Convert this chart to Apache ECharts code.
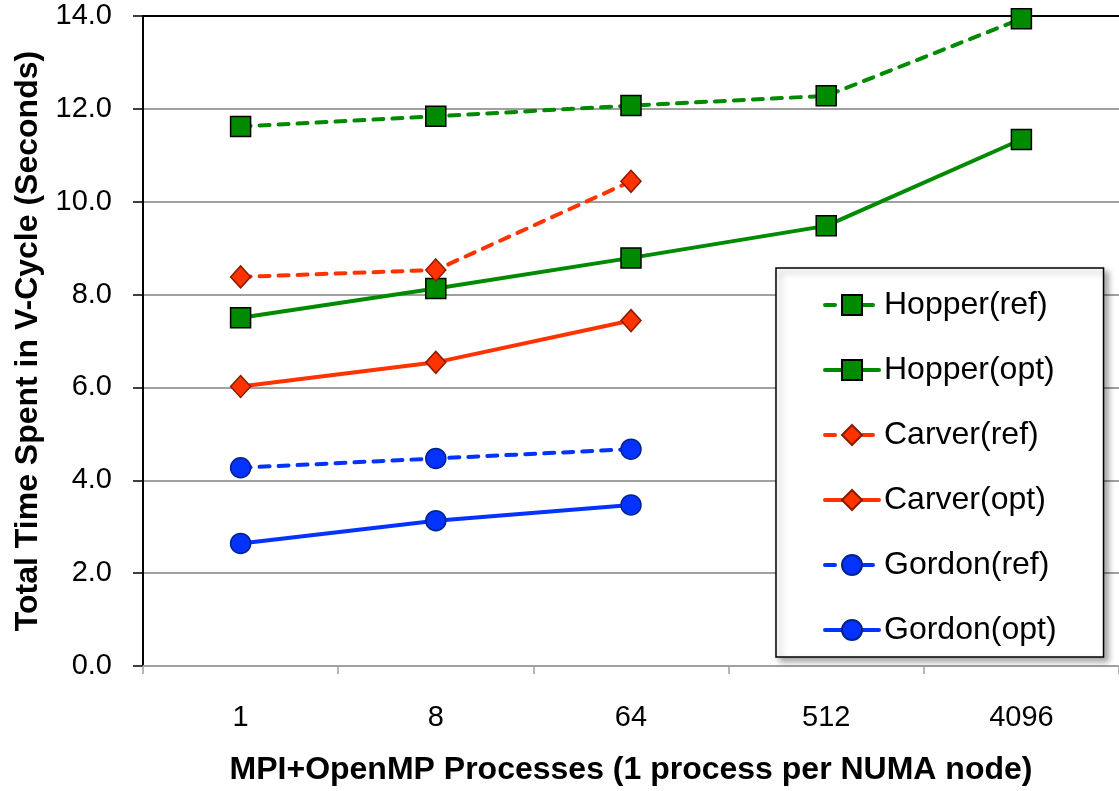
<!DOCTYPE html>
<html><head><meta charset="utf-8">
<script src="https://cdn.jsdelivr.net/npm/echarts@6/dist/echarts.min.js"></script>
<style>html,body{margin:0;padding:0;background:#fff}#c{width:1119px;height:791px}</style>
</head><body><div id="c"></div>
<script>
const categories = ['1', '8', '64', '512', '4096'];
const hopperRef = [11.62, 11.84, 12.07, 12.28, 13.94];
const hopperOpt = [7.50, 8.13, 8.79, 9.48, 11.34];
const carverRef = [8.38, 8.53, 10.44];
const carverOpt = [6.02, 6.54, 7.44];
const gordonRef = [4.27, 4.47, 4.67];
const gordonOpt = [2.64, 3.13, 3.47];
const seriesNames = ['Hopper(ref)', 'Hopper(opt)', 'Carver(ref)', 'Carver(opt)', 'Gordon(ref)', 'Gordon(opt)'];

const GREEN = '#008a00', RED = '#ff3300', BLUE = '#0433ff';
const FONT = 'Liberation Sans, Arial, sans-serif';
const dash = [10, 9];

function mk(name, data, color, dashed, symbol, size, border) {
  return {
    name, type: 'line', data,
    symbol, symbolSize: size,
    itemStyle: { color, borderColor: border, borderWidth: 1.5 },
    lineStyle: { color, width: 4, type: dashed ? dash : 'solid', cap: 'round' },
    emphasis: { disabled: true },
    z: 3
  };
}

const chart = echarts.init(document.getElementById('c'), null, { renderer: 'canvas' });
chart.setOption({
  animation: false,
  backgroundColor: '#fff',
  textStyle: { fontFamily: FONT },
  grid: { left: 143, top: 16, right: -8, bottom: 122, containLabel: false },
  legend: {
    orient: 'vertical',
    left: 776, top: 268,
    padding: [19, 47, 9, 47],
    itemWidth: 54, itemHeight: 25, itemGap: 29, itemTextGap: 5,
    backgroundColor: '#fff',
    borderColor: '#000', borderWidth: 1.5,
    shadowBlur: 6, shadowOffsetX: 4, shadowOffsetY: 4, shadowColor: 'rgba(0,0,0,0.35)',
    lineStyle: { width: 4 },
    textStyle: { fontSize: 32, color: '#000', fontFamily: FONT, lineHeight: 36 },
    data: seriesNames
  },
  xAxis: [{
    type: 'category', data: categories, boundaryGap: true,
    axisLine: { show: true, lineStyle: { color: '#a0a0a0', width: 2 } },
    axisTick: { show: true, alignWithLabel: false, length: 8, lineStyle: { color: '#a0a0a0', width: 1.5 } },
    axisLabel: { fontSize: 29, color: '#000', margin: 37, fontFamily: FONT },
    name: 'MPI+OpenMP Processes (1 process per NUMA node)',
    nameLocation: 'middle', nameGap: 88,
    nameTextStyle: { fontSize: 32, fontWeight: 'bold', color: '#000', fontFamily: FONT }
  }, {
    type: 'category', data: categories, position: 'top',
    axisLine: { show: true, onZero: false, lineStyle: { color: '#000', width: 2 } },
    axisTick: { show: false }, axisLabel: { show: false }
  }],
  yAxis: {
    type: 'value', min: 0, max: 14, interval: 2,
    axisLine: { show: true, lineStyle: { color: '#000', width: 2 } },
    axisTick: { show: true, length: 10, lineStyle: { color: '#000', width: 1.5 } },
    axisLabel: { fontSize: 29, color: '#000', margin: 31, fontFamily: FONT, formatter: v => v.toFixed(1) },
    splitLine: { show: true, lineStyle: { color: '#a0a0a0', width: 2 } },
    name: 'Total Time Spent in V-Cycle (Seconds)',
    nameLocation: 'middle', nameGap: 99, nameRotate: 90,
    nameTextStyle: { fontSize: 32, fontWeight: 'bold', color: '#000', fontFamily: FONT }
  },
  series: [
    mk(seriesNames[0], hopperRef, GREEN, true, 'rect', 20, '#000'),
    mk(seriesNames[1], hopperOpt, GREEN, false, 'rect', 20, '#000'),
    mk(seriesNames[2], carverRef, RED, true, 'diamond', [20, 22], '#8b1a00'),
    mk(seriesNames[3], carverOpt, RED, false, 'diamond', [20, 22], '#8b1a00'),
    mk(seriesNames[4], gordonRef, BLUE, true, 'circle', 20, '#00238b'),
    mk(seriesNames[5], gordonOpt, BLUE, false, 'circle', 20, '#00238b')
  ]
});
</script></body></html>
